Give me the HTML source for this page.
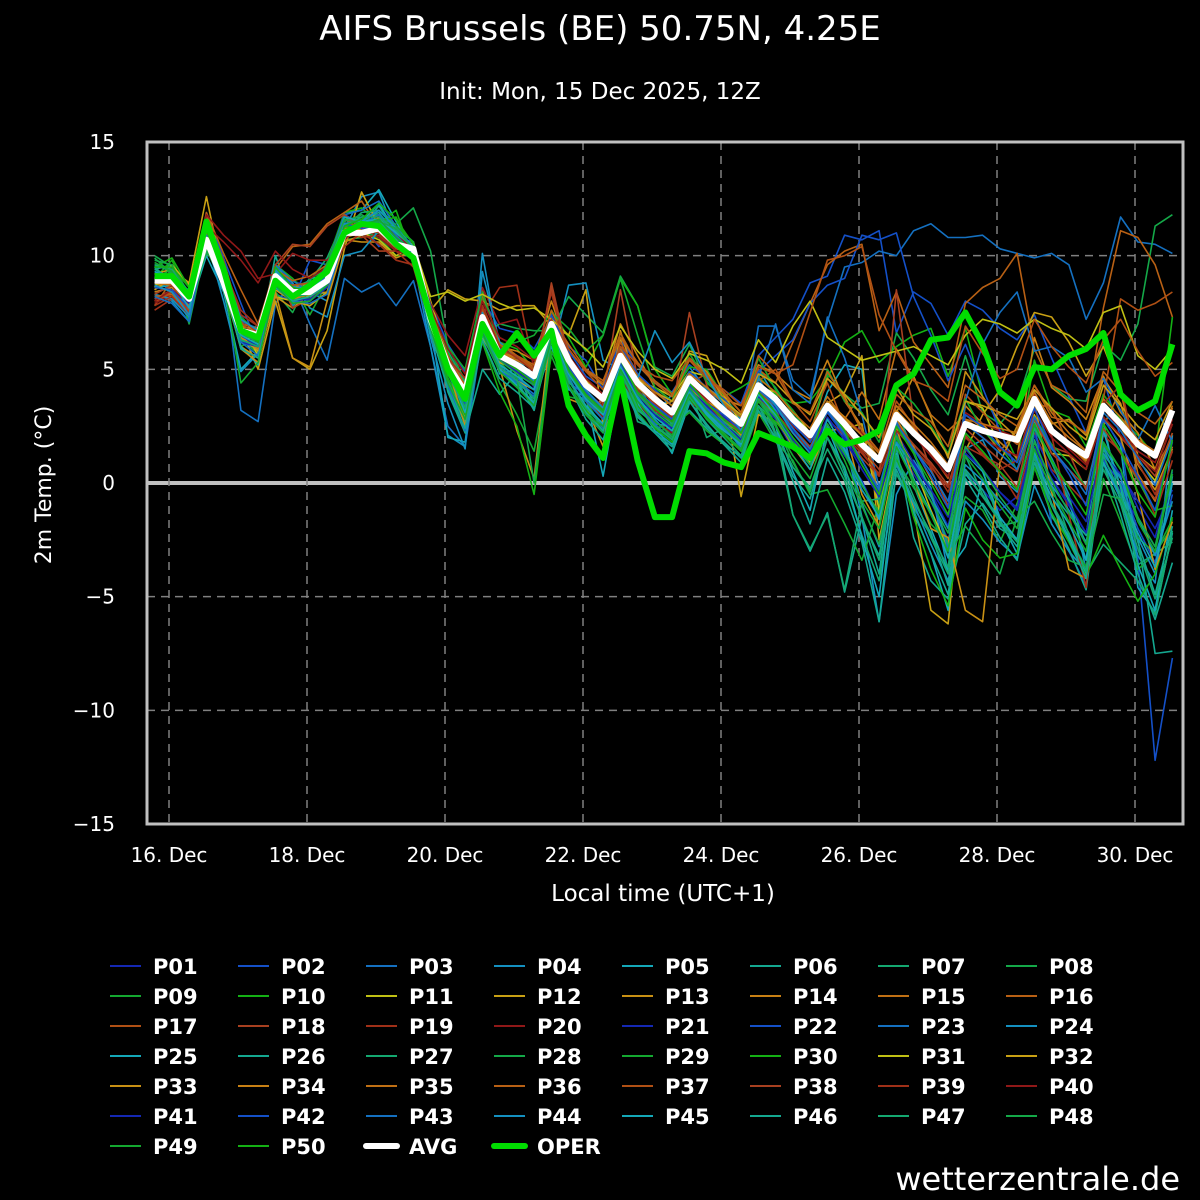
<!DOCTYPE html>
<html><head><meta charset="utf-8"><title>AIFS Brussels</title>
<style>html,body{margin:0;padding:0;background:#000;}svg{display:block;font-family:"DejaVu Sans","Liberation Sans",sans-serif;}</style>
</head><body>
<svg id="chart" width="1200" height="1200" viewBox="0 0 1200 1200" xmlns="http://www.w3.org/2000/svg">
<rect width="1200" height="1200" fill="#000"/>
<text x="600" y="40" fill="#fff" font-size="34" text-anchor="middle">AIFS Brussels (BE) 50.75N, 4.25E</text>
<text x="600" y="99" fill="#fff" font-size="23" text-anchor="middle">Init: Mon, 15 Dec 2025, 12Z</text>
<text x="0" y="0" fill="#fff" font-size="22" text-anchor="middle" transform="translate(51,485) rotate(-90)">2m Temp. (°C)</text>
<text x="663" y="901" fill="#fff" font-size="23" text-anchor="middle">Local time (UTC+1)</text>
<text x="1180" y="1190" fill="#fff" font-size="32" text-anchor="end">wetterzentrale.de</text>
<defs><clipPath id="plotclip"><rect x="147" y="142" width="1036" height="682"/></clipPath></defs>
<g id="grid"></g>
<g id="series" clip-path="url(#plotclip)"></g>
<rect x="147" y="142" width="1036" height="682" fill="none" stroke="#c0c0c0" stroke-width="3"/>
<g id="axes"></g>
<g id="legend"></g>
</svg>
<script>
const yTicks = [15,10,5,0,-5,-10,-15];
const xTickDays = [0,2,4,6,8,10,12,14];
const xTickLabels = ["16. Dec","18. Dec","20. Dec","22. Dec","24. Dec","26. Dec","28. Dec","30. Dec"];
const startDay = -5/24;
const stepDay = 0.25;
const avgValues = [8.9,8.9,8.1,10.7,8.8,6.7,6.5,9.1,8.4,8.4, 8.9,11.0,11.0,11.2,10.5,10.3,7.2,5.2,4.0,7.3, 5.6,5.2,4.7,7.0,5.4,4.3,3.7,5.6,4.4,3.7, 3.1,4.6,3.9,3.2,2.6,4.3,3.7,2.8,2.1,3.4, 2.6,1.7,1.0,3.0,2.2,1.5,0.6,2.6,2.3,2.1, 1.9,3.7,2.3,1.7,1.2,3.4,2.6,1.7,1.2,3.2];
const operValues = [9.1,9.1,8.2,11.5,9.4,6.7,6.4,8.9,8.2,8.7, 9.3,11.0,11.4,11.3,10.5,9.9,7.3,5.0,3.7,7.0, 5.6,6.6,5.6,6.7,3.4,2.1,1.1,4.6,1.0,-1.5, -1.5,1.4,1.3,0.9,0.7,2.2,1.9,1.6,1.1,2.3, 1.7,1.9,2.3,4.3,4.8,6.3,6.4,7.5,6.1,4.0, 3.4,5.1,5.0,5.6,5.9,6.6,3.9,3.2,3.6,6.1];
const memberNames = Array.from({length:50},(_,i)=>"P"+String(i+1).padStart(2,"0"));
const memberColors = ["#1428b4","#1450c8","#1470c0","#1490c0","#14a8b8","#14a890","#14a870","#14a848","#14a830","#14b014","#c0c014","#c8a014","#c89014","#c88014","#c07014","#b86014","#b05014","#a84020","#a03018","#901818"];
const memberSeries = [
[8.5,9.2,7.8,11.2,9.5,7.4,6.2,9.0,8.9,8.6,9.4,11.5,10.9,11.6,10.8,10.1,6.8,4.5,3.2,6.9,6.1,5.6,4.2,6.5,4.8,3.9,3.0,5.1,3.6,3.1,2.2,3.8,3.3,2.5,1.9,3.6,2.8,1.5,0.9,2.3,1.2,0.1,-1.5,1.8,0.4,-0.8,-2.5,0.5,-0.3,-1.2,-0.6,1.4,0.2,-1.0,-2.2,1.1,-0.4,-1.6,-2.8,0.5],
[8.1,8.4,7.5,11.9,9.9,7.9,6.0,8.3,8.0,9.8,9.6,11.8,11.4,10.4,10.8,9.9,7.9,6.1,4.9,8.1,6.8,6.6,5.9,7.3,6.0,5.4,4.1,6.3,5.2,4.4,4.0,5.2,4.6,4.1,3.5,5.6,6.4,7.2,8.8,9.1,10.9,10.7,11.1,6.6,8.4,7.9,6.5,8.0,7.6,6.8,6.3,7.4,5.5,3.8,2.2,4.6,2.0,-3.4,-12.2,-7.7],
[9.0,8.4,7.2,11.5,9.3,3.2,2.7,7.9,8.8,7.0,5.4,9.0,8.4,8.8,7.8,8.9,6.0,2.5,1.6,6.6,5.0,4.4,3.8,6.6,4.4,3.9,3.3,5.0,3.9,3.2,2.6,4.2,3.8,3.0,2.2,6.9,6.9,4.5,3.8,7.1,9.5,9.7,10.2,10.0,11.1,11.4,10.8,10.8,10.9,10.3,10.1,9.9,10.1,9.6,7.2,8.8,11.7,10.6,10.5,10.1],
[8.3,8.0,7.1,11.0,9.8,6.6,6.8,9.5,7.8,8.4,8.0,11.2,12.6,12.8,10.9,9.8,6.0,2.1,1.6,10.1,5.8,5.3,4.6,5.6,8.7,8.8,5.4,5.0,4.4,3.0,3.9,5.1,4.1,3.5,2.8,5.0,3.8,2.3,1.5,3.5,2.0,-1.5,-6.1,-0.5,1.0,-0.2,-3.9,1.5,1.9,0.3,-0.4,2.5,1.1,-0.5,-3.8,0.9,-0.7,-3.2,-4.4,2.1],
[9.2,8.9,7.6,10.0,8.4,5.0,5.8,9.4,8.1,9.0,9.1,11.9,12.0,12.9,11.5,10.1,7.0,2.0,1.8,7.2,4.8,5.0,3.5,6.0,4.1,3.8,0.3,4.6,3.8,2.6,1.3,3.5,3.6,2.4,2.5,4.2,3.4,2.7,1.8,4.0,5.2,5.0,-1.2,2.1,-0.1,-2.0,-3.9,-2.8,0.2,-1.6,-3.1,2.7,0.9,-0.8,-3.4,2.9,1.6,-4.6,-5.7,-2.2],
[9.4,9.6,7.6,10.9,8.7,6.4,6.1,10.0,7.9,8.5,8.3,11.3,11.3,12.2,11.0,10.0,7.5,4.0,2.2,5.0,3.9,4.9,3.2,6.7,4.2,3.6,2.9,4.7,3.2,2.6,2.5,3.2,2.4,1.7,1.2,3.4,2.6,-1.4,-3.0,-1.3,-4.8,-1.5,-4.0,1.6,-2.4,-4.3,-5.1,-1.8,-0.9,-2.0,-2.5,1.1,-0.4,-1.4,-2.3,2.7,-0.9,-2.4,-7.5,-7.4],
[9.5,8.8,8.5,10.2,9.0,6.9,6.0,8.9,8.6,8.9,9.9,11.6,11.7,11.8,11.2,10.6,7.5,5.8,4.4,7.2,5.2,4.2,3.6,6.2,4.7,3.2,2.3,5.4,2.7,2.4,2.6,4.2,2.0,2.4,1.9,4.3,2.2,0.7,-0.3,1.5,0.1,-2.3,-4.3,0.4,-1.1,-2.3,-3.7,1.6,0.6,-1.9,-1.7,1.9,-0.1,-2.3,-4.0,-2.7,-3.5,-4.3,-5.8,-2.1],
[10.0,9.5,7.0,10.5,9.0,6.3,5.7,8.4,7.5,9.0,9.4,10.7,10.8,11.0,11.4,12.1,10.2,6.0,4.5,6.5,7.0,6.8,6.7,6.7,8.2,7.4,6.6,9.1,7.8,5.1,4.7,6.1,4.4,3.8,2.9,5.0,4.2,3.0,2.1,4.8,3.9,3.3,3.5,6.6,5.5,4.1,3.0,5.6,3.1,2.6,3.5,5.9,4.3,3.7,3.6,6.1,5.4,7.0,11.3,11.8],
[8.8,9.3,8.3,10.3,8.6,6.2,7.0,9.2,8.7,7.4,8.8,11.2,11.0,10.8,10.0,10.1,6.5,4.6,3.3,6.3,4.4,3.0,1.4,5.6,3.8,3.6,2.4,4.9,3.1,2.2,2.5,3.1,2.3,1.7,0.9,3.1,1.8,1.0,-0.5,-0.3,-1.8,-3.4,-0.9,2.0,-0.1,-1.8,-2.6,-0.6,-1.2,-2.6,-0.9,1.4,-1.5,-2.4,-3.7,0.2,-1.7,-3.8,-3.1,-1.6],
[9.0,9.8,8.2,11.5,8.5,6.0,6.4,9.6,9.0,8.2,9.7,11.9,12.1,11.4,12.0,9.8,7.6,5.7,4.0,8.2,6.2,5.9,5.0,7.6,6.4,5.1,6.5,9.0,7.8,5.0,3.9,5.1,5.0,3.8,4.2,4.7,3.9,3.5,3.6,4.6,6.2,6.7,5.3,6.0,6.5,6.8,4.7,6.8,3.8,2.6,1.0,5.4,3.2,2.9,1.6,3.9,2.8,2.1,1.2,7.3],
[8.6,9.6,8.7,11.3,8.6,7.0,5.6,8.2,8.0,8.1,8.9,11.4,11.0,10.7,10.0,10.4,8.0,5.5,4.6,6.4,5.1,4.5,4.1,6.9,5.0,4.6,3.5,5.5,4.5,4.2,3.8,4.9,4.7,3.9,2.6,4.2,4.0,3.2,2.2,3.2,2.4,2.6,-1.2,2.2,0.8,-1.2,-2.9,3.6,3.3,1.6,0.9,3.0,1.3,1.2,0.6,3.4,2.5,1.0,0.1,2.2],
[9.2,9.4,8.8,12.6,9.0,6.8,5.0,8.0,5.5,5.0,6.7,10.3,12.8,11.3,10.6,10.0,7.6,8.5,8.1,8.0,7.6,7.8,7.8,6.9,6.5,8.5,2.5,6.3,4.0,3.3,3.6,5.8,5.6,3.9,-0.6,3.0,2.7,1.9,0.9,3.5,4.0,5.6,-2.5,1.2,-1.1,-5.6,-6.2,1.4,3.0,4.1,6.0,7.5,7.3,6.2,4.7,6.0,4.1,1.2,0.6,2.0],
[9.0,8.7,8.1,10.4,9.1,6.0,5.5,8.2,7.7,8.3,8.4,10.7,10.6,10.6,9.9,10.2,6.6,4.4,2.9,7.6,5.1,2.3,0.2,6.9,3.7,3.4,1.6,6.7,4.2,3.5,2.9,4.3,3.3,2.9,2.1,4.0,3.3,2.8,2.2,4.6,3.8,2.3,1.4,3.1,4.7,2.9,1.1,4.9,3.8,2.7,2.0,3.7,2.6,2.8,2.1,4.6,3.5,0.8,-0.3,1.5],
[8.2,8.2,7.7,11.6,9.4,7.2,6.5,9.2,8.6,8.8,9.0,11.3,11.1,11.7,10.6,10.5,7.0,5.1,3.6,7.8,6.0,5.8,5.4,8.0,5.8,5.0,4.3,7.0,5.6,4.2,3.6,5.5,4.9,3.7,3.4,5.2,4.8,4.1,3.7,5.4,3.6,2.5,-0.6,2.8,1.6,0.2,-1.1,3.4,2.6,1.8,1.1,6.4,4.2,3.6,2.8,4.7,3.1,2.2,0.6,2.6],
[8.5,9.2,8.3,11.2,8.9,6.5,6.8,9.6,8.1,8.5,9.3,10.9,11.5,11.4,10.7,10.1,7.4,4.9,3.5,6.8,5.7,5.4,5.0,7.0,5.6,3.6,2.8,5.8,4.6,3.6,3.1,4.7,3.6,2.7,2.2,4.0,3.4,2.6,2.1,3.6,2.8,4.0,2.8,5.9,4.6,3.0,2.3,3.0,2.4,1.4,2.3,4.3,3.1,2.2,1.4,2.5,4.1,0.4,-0.8,1.6],
[7.8,8.9,8.0,11.9,10.1,8.5,7.0,9.4,10.4,10.5,11.4,11.9,12.4,11.2,10.7,10.6,7.8,5.5,4.2,8.3,6.2,5.6,5.1,7.3,6.1,5.0,4.5,6.4,5.3,4.5,3.9,5.4,4.6,4.0,3.1,5.0,4.4,6.2,7.9,9.6,10.2,10.5,6.7,8.4,6.2,5.2,4.2,7.9,8.6,9.0,10.1,5.9,4.3,3.9,3.1,7.7,11.1,10.8,9.6,7.3],
[8.0,8.3,7.6,11.8,9.2,6.6,6.2,8.7,8.3,8.7,9.2,11.2,11.4,11.6,11.0,9.9,6.8,4.8,3.4,8.5,6.0,5.2,4.6,7.4,5.7,4.1,3.1,6.2,4.8,3.9,3.0,4.4,4.8,3.5,2.6,4.5,5.0,3.6,2.7,4.4,2.5,1.8,0.9,3.6,2.5,1.3,0.2,3.9,3.1,2.3,1.7,3.5,3.3,1.7,0.9,3.7,8.1,7.6,7.9,8.4],
[8.1,8.5,7.8,11.4,9.6,6.8,6.4,9.3,7.7,8.1,8.7,10.9,10.9,10.2,10.2,10.0,6.6,4.3,3.5,6.9,5.5,5.1,4.4,8.8,5.5,4.2,3.8,8.5,4.6,3.4,3.2,7.5,4.3,3.0,2.4,4.1,3.5,2.4,1.6,3.1,2.1,1.1,0.3,8.5,2.7,0.6,-1.0,2.1,1.2,0.8,-0.2,3.3,1.6,1.3,-0.3,2.9,2.0,1.2,0.3,2.2],
[7.6,8.1,7.4,11.1,9.5,7.6,6.9,8.8,8.1,8.4,9.0,11.0,10.8,10.9,10.2,9.5,6.9,5.0,3.7,7.4,8.6,8.7,5.0,8.4,5.3,4.2,3.7,5.4,4.3,3.5,2.9,4.4,3.7,3.0,2.4,4.0,3.5,2.6,2.0,3.1,2.3,1.4,0.3,2.4,1.7,0.8,-0.4,1.6,1.2,0.5,-0.7,2.2,0.6,-0.1,-0.9,2.1,1.4,0.2,-1.4,1.0],
[7.9,8.3,7.6,11.8,10.9,10.2,9.0,9.2,10.1,9.8,9.8,10.7,11.3,10.8,10.2,10.0,7.9,6.5,5.6,8.6,7.0,7.2,5.2,6.2,4.9,3.8,2.9,4.6,3.5,2.7,2.2,3.6,3.0,2.4,1.8,3.6,3.2,2.5,1.9,3.4,2.9,2.2,1.4,3.2,2.4,1.6,0.7,3.1,2.6,2.3,2.0,3.9,2.4,1.5,0.8,3.3,2.3,1.4,0.9,2.8],
[8.7,9.0,8.0,11.0,9.1,6.5,6.0,8.8,8.2,8.0,8.6,11.1,11.2,11.0,10.4,10.2,7.1,5.0,3.6,7.0,5.4,4.9,4.3,6.6,5.0,3.9,3.0,5.2,4.0,3.3,2.8,4.3,3.5,2.9,2.3,4.4,3.3,2.3,1.4,2.8,2.0,0.8,-0.4,2.2,0.9,-0.4,-1.9,1.5,0.6,-0.4,-1.1,2.1,0.5,-0.6,-1.7,1.8,0.6,-1.1,-2.4,0.4],
[8.4,8.6,7.9,11.6,9.7,7.1,6.8,9.4,8.7,8.8,9.2,11.3,11.3,11.5,10.8,10.6,7.5,5.4,4.3,7.6,5.9,5.5,5.0,7.4,5.8,4.7,4.2,6.0,4.8,4.1,3.4,4.9,4.2,3.7,2.9,4.9,5.6,6.3,7.9,8.7,9.0,10.9,10.7,11.0,8.2,6.5,4.5,6.1,4.2,2.3,0.5,2.6,-1.8,-3.0,-4.5,1.0,0.0,-2.0,-3.5,-0.5],
[9.1,8.8,7.3,10.8,9.0,6.2,5.9,9.6,8.9,8.4,9.6,11.8,12.0,12.4,11.3,10.2,7.8,5.2,3.4,7.0,5.1,4.6,4.1,6.5,4.6,3.4,2.4,4.8,3.4,2.6,1.9,3.9,3.0,2.6,1.5,4.6,7.0,4.1,3.5,7.3,5.5,3.0,-0.2,2.7,1.3,-0.5,-2.9,3.6,6.1,7.5,8.4,5.8,6.0,5.5,4.0,4.6,3.2,1.9,3.4,1.8],
[8.3,8.1,7.3,10.7,8.0,4.9,5.7,9.5,8.8,7.7,7.3,10.0,10.2,11.1,10.4,10.2,6.4,3.5,1.5,9.3,6.2,5.5,4.6,7.1,5.1,3.8,3.0,5.2,3.8,2.8,2.0,3.9,3.1,2.4,1.6,4.2,3.2,1.8,0.8,3.5,1.8,-0.9,-2.8,0.8,-0.9,-2.7,-4.3,-0.8,-1.6,-2.6,-3.3,-0.1,-1.8,-3.0,-3.9,1.6,0.3,-2.4,-4.0,0.3],
[8.6,8.7,7.7,11.3,9.0,6.0,5.2,9.3,8.4,8.3,9.0,11.1,11.5,12.3,11.0,10.4,6.9,4.6,2.7,6.8,5.0,4.3,3.5,6.8,4.5,3.4,2.6,5.3,3.5,2.3,1.7,4.1,3.0,2.2,1.4,3.8,2.5,0.5,-1.2,2.5,0.5,-2.4,-5.0,1.3,-1.3,-3.1,-5.6,1.3,0.5,-1.5,-2.5,1.4,-0.9,-2.4,-4.0,2.3,-0.2,-3.6,-5.6,-1.2],
[9.3,9.1,7.9,10.6,8.8,6.3,6.0,8.9,8.2,8.4,8.8,11.0,11.6,11.9,10.9,10.2,6.6,4.3,2.6,6.5,4.9,4.5,3.2,6.5,4.3,2.8,1.9,4.5,2.9,2.2,1.4,3.6,2.6,1.7,0.9,3.4,1.9,0.1,-1.8,1.1,-0.4,-2.6,-6.1,0.6,-1.2,-3.1,-4.9,0.2,-1.0,-2.4,-3.4,0.7,-1.4,-2.9,-4.7,0.9,-1.4,-4.0,-6.0,-3.5],
[9.6,9.3,8.3,10.9,9.3,6.7,6.3,9.0,8.0,8.4,8.6,11.2,11.9,12.0,11.3,10.6,7.4,5.2,3.9,7.3,5.4,4.8,4.3,7.0,5.2,3.7,3.1,5.7,4.1,3.3,2.6,4.4,3.4,2.7,2.0,3.9,2.1,-1.4,-2.9,-1.4,-4.7,-0.8,-0.7,3.2,1.4,-0.4,-2.7,1.2,-0.5,-1.7,-2.5,2.4,0.9,-0.7,-2.7,0.6,-0.9,-3.6,-3.1,-2.6],
[9.9,9.2,8.0,10.1,9.4,7.0,6.5,8.6,8.1,8.3,9.4,11.5,11.8,11.4,11.0,10.3,7.1,5.0,3.4,6.7,5.3,4.6,0.0,6.3,4.2,3.0,2.2,4.9,3.3,2.5,2.0,4.1,3.2,2.5,1.7,3.8,2.6,0.9,-0.4,2.0,0.6,-1.0,-2.7,1.0,-0.2,-1.3,-3.2,-1.9,-2.9,-4.0,-1.5,-0.8,-2.2,-3.4,-3.7,-0.5,-0.7,-2.4,-3.1,-1.9],
[9.0,9.4,8.2,10.4,9.1,6.5,6.3,9.3,8.5,8.7,9.2,11.4,11.6,11.6,11.3,10.6,7.5,6.0,5.0,8.4,6.0,6.2,6.5,7.5,6.8,5.8,6.5,9.0,6.5,4.2,3.6,5.7,4.5,3.6,2.9,5.5,4.1,3.2,2.0,5.0,3.6,3.1,1.8,4.2,3.5,2.5,1.3,3.7,2.3,1.6,0.6,2.9,1.7,0.9,-0.2,2.6,1.4,0.1,-1.2,-1.0],
[9.5,9.9,8.6,10.6,9.2,7.3,6.6,9.0,8.3,8.1,8.6,11.2,11.5,11.5,11.7,10.0,6.9,4.6,3.0,6.2,4.0,2.5,-0.5,5.8,4.3,3.2,2.3,5.4,3.4,2.4,1.8,3.7,2.9,2.1,1.4,3.3,2.7,1.8,0.8,2.4,1.3,-0.3,-1.4,1.2,-1.5,-3.8,-5.4,-1.1,-2.5,-3.3,-3.1,0.7,-1.3,-2.6,-4.1,-2.3,-3.8,-5.2,-4.0,-1.5],
[8.7,8.9,8.4,11.2,9.2,6.9,6.7,9.2,8.5,8.2,9.1,11.0,11.2,11.3,10.7,10.5,8.2,8.4,8.0,8.3,7.9,7.6,7.7,7.2,6.5,5.9,5.1,6.9,5.8,5.0,4.6,5.7,5.4,5.0,4.4,6.3,5.3,6.9,8.0,6.4,5.9,5.4,5.6,5.8,6.0,5.6,5.2,6.5,7.2,7.0,6.6,7.2,6.8,6.5,5.9,7.5,7.8,5.6,5.0,5.9],
[8.5,9.0,8.1,11.0,8.9,6.4,5.8,8.5,8.0,7.8,8.4,10.8,11.0,11.1,10.4,10.1,7.0,5.0,3.6,7.2,5.3,5.0,4.7,6.5,5.3,4.5,3.8,5.5,4.6,4.0,3.6,4.8,4.2,3.6,3.0,4.8,4.4,3.6,3.0,4.6,3.9,3.0,2.0,4.2,3.0,2.4,1.2,3.6,3.4,3.1,2.8,4.1,3.3,2.5,1.9,4.3,3.4,2.5,1.9,3.6],
[8.8,9.1,8.0,11.0,8.7,5.9,5.3,8.4,5.5,5.1,8.0,10.6,10.9,11.1,10.5,10.2,7.3,5.1,2.5,7.2,5.4,4.9,4.3,6.7,4.9,3.9,3.2,5.5,4.3,3.6,3.2,4.4,3.6,3.1,2.4,3.8,2.9,1.6,0.6,2.3,2.4,-0.5,-1.9,2.4,0.2,-2.0,-2.4,-5.6,-6.1,0.9,2.5,3.6,-0.4,-3.8,-4.2,2.9,2.0,-0.5,-3.8,-1.7],
[8.4,8.6,7.9,10.8,9.1,6.4,5.9,9.0,8.1,8.3,8.9,10.9,11.1,11.3,10.5,10.0,7.2,5.3,4.0,7.5,5.8,5.5,5.0,6.6,5.2,4.4,3.7,5.6,4.3,3.6,3.0,4.6,3.9,3.1,2.5,4.4,3.8,2.9,2.2,3.6,2.9,2.1,1.1,3.2,2.4,1.5,0.6,2.8,2.3,2.0,1.8,3.7,2.2,1.6,1.0,3.4,2.6,1.7,1.3,3.3],
[8.8,8.7,7.8,10.9,8.9,6.9,6.7,9.2,8.5,8.6,9.1,11.2,11.2,11.3,10.6,10.3,7.4,5.4,4.2,7.6,5.8,5.4,5.0,7.2,5.6,4.6,3.9,5.9,4.7,4.0,3.4,4.8,4.2,3.5,2.9,4.6,4.0,3.1,2.4,3.8,2.8,2.1,1.3,3.4,2.6,1.8,0.8,2.8,2.6,2.4,2.2,4.0,2.7,2.0,1.4,3.7,2.9,1.9,1.4,3.4],
[8.2,8.3,7.6,11.1,9.3,7.0,6.8,9.4,8.9,9.1,9.6,11.6,11.3,11.1,10.8,10.4,7.6,5.6,4.3,7.8,6.1,5.6,5.2,7.6,5.9,4.9,4.4,6.6,5.2,4.4,3.8,5.4,4.8,3.9,3.1,5.6,4.8,3.5,3.1,4.9,3.7,2.3,1.4,3.9,3.2,2.7,1.6,4.3,3.7,3.0,2.5,4.3,2.9,2.7,2.2,4.9,4.0,3.1,2.6,3.6],
[8.0,8.4,7.7,11.4,9.4,7.1,6.3,8.9,8.7,8.8,9.3,11.4,11.3,11.4,10.7,10.3,7.2,5.3,3.9,7.7,5.8,5.6,5.0,7.1,5.9,4.9,4.1,6.0,5.2,4.7,4.5,5.5,4.6,4.1,3.4,5.1,4.8,5.2,7.5,9.8,10.0,10.4,7.4,5.8,4.5,4.2,3.6,6.9,5.7,4.6,5.0,7.2,6.0,5.1,4.4,6.3,7.2,5.8,4.7,5.3],
[8.3,8.7,7.5,11.6,9.8,7.2,6.6,9.6,10.5,10.4,11.3,11.8,11.2,11.0,10.3,10.1,7.3,5.2,3.9,7.3,5.7,5.2,4.8,8.6,5.6,4.3,3.5,5.8,4.3,3.4,2.8,4.4,3.6,2.8,2.3,4.0,3.4,2.6,1.9,3.2,2.3,1.5,0.6,2.6,1.7,0.9,-0.1,2.4,1.7,1.0,0.5,2.8,1.3,0.6,-0.2,2.4,1.3,0.2,-0.7,1.4],
[7.8,8.2,7.4,11.2,9.6,7.4,6.9,9.1,8.6,8.5,9.0,10.4,11.0,10.5,9.8,9.6,6.9,5.5,4.6,7.8,6.0,5.5,4.9,7.2,5.2,4.0,3.4,5.4,4.1,3.2,2.7,4.1,3.4,2.8,2.2,3.7,3.1,2.2,1.5,2.8,2.1,1.3,0.4,2.3,1.5,0.7,-0.2,2.0,1.3,0.6,1.0,3.7,2.1,-1.4,-4.6,3.5,4.3,0.9,-0.5,1.4],
[8.0,8.5,7.9,11.3,10.6,9.8,8.8,10.2,9.4,9.0,9.5,10.8,11.1,11.4,10.9,10.3,7.7,5.9,4.8,8.0,6.4,6.0,5.4,6.6,5.6,4.6,3.9,5.7,4.3,3.6,3.1,4.4,3.7,3.2,2.4,4.1,3.6,2.7,2.0,3.3,2.5,1.8,0.9,2.9,2.1,1.2,0.3,2.7,2.0,1.5,1.2,3.2,2.0,1.3,0.6,2.9,2.1,1.2,0.5,2.6],
[8.9,8.8,7.9,10.9,8.7,6.2,6.0,8.6,8.0,8.1,8.6,10.9,11.0,11.2,10.6,10.1,7.0,4.9,3.6,7.0,5.4,4.9,4.3,6.7,4.9,3.7,3.2,5.3,3.9,3.0,2.4,4.1,3.4,2.6,1.9,3.8,3.1,1.9,1.1,2.9,1.9,0.6,-0.6,1.8,0.8,-0.3,-1.5,1.3,0.6,-0.4,-1.2,1.6,0.2,-0.9,-2.2,1.2,0.4,-0.8,-2.0,-0.3],
[8.6,8.5,7.7,11.2,9.3,6.8,6.4,9.2,8.4,8.5,9.1,11.4,11.2,11.2,10.8,10.1,7.0,4.9,3.5,7.2,5.5,5.0,4.5,6.9,5.1,4.0,3.2,5.4,4.0,3.4,2.8,4.3,3.5,3.0,2.3,4.2,3.5,2.6,1.8,3.1,2.1,1.0,-0.3,2.6,1.5,0.3,-1.1,3.0,2.5,1.6,0.9,3.3,1.6,0.4,-1.0,2.8,1.7,0.3,-1.2,1.8],
[8.2,7.9,7.1,10.9,9.0,6.2,5.6,8.8,8.0,7.9,8.3,10.8,11.4,11.8,10.9,10.1,6.9,4.3,2.3,7.0,4.9,4.5,3.9,6.5,4.8,3.6,2.8,5.2,3.7,2.9,2.3,4.1,3.3,2.6,1.8,4.1,3.4,2.4,1.5,3.2,2.2,1.0,-0.3,2.6,1.5,0.5,-0.8,2.6,2.0,1.3,0.6,2.9,1.5,0.6,-0.5,3.1,2.3,1.1,-0.1,2.0],
[8.7,8.4,7.4,11.6,9.6,7.2,6.7,9.4,8.6,8.6,9.2,11.4,11.5,12.0,11.2,10.4,7.3,5.1,3.6,7.5,5.6,5.2,4.5,6.9,5.3,4.1,3.3,5.6,4.6,6.7,5.3,6.2,4.7,3.4,2.3,4.6,3.4,2.2,1.3,2.5,1.4,-0.3,-1.5,1.8,0.7,-0.6,-2.0,0.8,0.1,-0.8,-1.7,1.2,-0.1,-1.2,-2.6,1.3,0.2,-1.5,-3.2,-0.8],
[9.3,8.9,7.7,10.8,8.7,6.5,6.1,9.3,8.5,8.5,9.2,11.7,11.5,11.6,11.0,10.4,7.1,5.0,3.1,6.9,5.2,4.7,4.1,6.7,4.8,3.7,3.0,5.1,3.7,2.9,2.3,4.0,3.1,2.3,1.7,3.9,3.0,1.7,0.6,2.8,1.5,0.0,-1.6,1.7,0.2,-1.3,-3.3,0.4,-0.6,-1.5,-2.5,0.9,-0.6,-1.8,-3.4,0.9,-0.5,-2.2,-3.7,0.0],
[9.4,9.0,8.1,10.5,8.8,5.9,5.5,8.6,8.0,8.2,8.7,11.0,11.4,11.5,10.7,10.0,6.7,4.1,2.4,6.3,4.6,4.0,3.3,6.2,4.2,3.1,2.3,4.6,3.0,2.2,1.6,3.6,2.5,1.8,1.1,3.2,2.0,0.3,-0.7,2.0,0.7,-1.6,-3.2,0.9,-0.8,-2.2,-4.5,0.6,-0.3,-1.8,-2.8,0.9,-1.0,-2.5,-4.2,1.5,-0.1,-2.6,-4.9,-1.9],
[9.6,9.4,8.4,10.6,9.1,6.3,6.0,8.8,8.2,8.3,8.9,11.3,11.7,11.7,11.1,10.3,7.2,4.8,3.3,6.8,5.1,4.5,3.7,6.6,4.5,3.3,2.5,5.0,3.3,2.5,1.9,3.8,2.8,2.0,1.2,3.4,2.2,0.7,-0.2,2.0,0.3,-1.5,-3.4,1.2,-0.6,-2.4,-4.0,0.5,-0.6,-1.7,-2.6,1.1,-0.9,-2.2,-3.9,1.2,-0.5,-2.9,-5.1,-2.4],
[9.8,9.6,8.2,10.8,9.0,6.6,6.2,9.1,8.5,8.4,9.6,11.6,11.4,11.5,11.2,10.3,7.2,5.1,3.6,7.1,5.4,4.8,4.3,6.9,4.9,3.8,3.1,5.5,3.9,3.1,2.5,4.2,3.2,2.5,1.8,3.7,2.9,1.7,0.8,2.6,1.3,-0.1,-1.3,2.1,0.6,-0.8,-2.2,1.6,0.6,-0.6,-1.6,1.8,0.1,-1.3,-2.7,1.7,0.6,-1.5,-2.8,0.6],
[9.7,9.3,8.0,10.7,8.9,4.4,5.3,8.7,7.9,8.0,8.7,11.0,11.3,11.6,10.8,10.2,6.8,4.4,2.8,6.6,4.9,4.2,3.4,6.3,4.3,3.0,2.5,5.0,3.6,2.7,2.1,3.9,2.8,2.2,1.5,3.6,2.5,1.2,0.2,2.4,1.0,-0.8,-2.0,1.6,0.1,-1.4,-3.0,1.2,0.2,-1.0,-2.0,1.5,-0.3,-1.7,-3.0,1.8,0.6,-1.7,-3.0,0.4],
[9.5,9.5,8.6,11.1,9.4,6.8,6.2,9.5,8.6,8.4,9.0,11.3,11.6,12.3,11.6,10.5,7.4,5.3,3.8,7.3,5.5,5.0,4.4,7.0,5.0,3.9,3.2,5.4,4.0,3.3,2.7,4.4,3.5,2.8,2.2,4.0,3.1,2.0,1.1,3.4,2.3,0.8,-0.5,2.5,1.3,0.0,-1.4,2.2,1.4,0.5,-0.3,2.6,1.0,-0.2,-1.4,2.6,1.4,-0.4,-1.5,1.9]
];

const NS = "http://www.w3.org/2000/svg";
const plotLeft = 147, plotRight = 1183, plotTop = 142, plotBottom = 824;
const yMin = -15, yMax = 15;
function yScale(v){ return plotBottom - (v - yMin) / (yMax - yMin) * (plotBottom - plotTop); }
function xScale(day){ return 169 + 69 * day; }
function mk(tag, attrs, parent){ const e = document.createElementNS(NS, tag); for (const k in attrs) e.setAttribute(k, attrs[k]); parent.appendChild(e); return e; }
function pathFor(vals){ return vals.map((v,i)=>(i?"L":"M")+xScale(startDay+i*stepDay).toFixed(1)+","+yScale(v).toFixed(1)).join(" "); }

const grid = document.getElementById("grid");
const axes = document.getElementById("axes");
yTicks.forEach(v=>{
  const y = yScale(v);
  if (v !== 0 && v !== 15 && v !== -15) {
    const l = mk("line",{x1:plotLeft,x2:plotRight,y1:y,y2:y,stroke:"#808080","stroke-width":1.5,"stroke-dasharray":"8,6"},grid);
    
    
  }
  const t = mk("text",{x:115,y:y+7,fill:"#fff","font-size":20,"text-anchor":"end"},axes);
  t.textContent = String(v).replace("-","\u2212");
  
  
});
const zl = mk("line",{x1:plotLeft,x2:plotRight,y1:yScale(0),y2:yScale(0),stroke:"#c0c0c0","stroke-width":4},grid);


xTickDays.forEach((d,i)=>{
  const x = xScale(d);
  const l = mk("line",{x1:x,x2:x,y1:plotTop,y2:plotBottom,stroke:"#808080","stroke-width":1.5,"stroke-dasharray":"8,6"},grid);
  
  
  const t = mk("text",{x:x,y:862,fill:"#fff","font-size":20,"text-anchor":"middle"},axes);
  t.textContent = xTickLabels[i];
  
  
});

const series = document.getElementById("series");
memberSeries.forEach((vals,i)=>{
  const p = mk("path",{d:pathFor(vals),fill:"none",stroke:memberColors[i%20],"stroke-width":1.6,"stroke-linejoin":"round"},series);
  
  
});
const avgPath = mk("path",{d:pathFor(avgValues),fill:"none",stroke:"#fff","stroke-width":6,"stroke-linejoin":"round"},series);


const operPath = mk("path",{d:pathFor(operValues),fill:"none",stroke:"#00dd00","stroke-width":6,"stroke-linejoin":"round"},series);



const legend = document.getElementById("legend");
const legendItems = memberNames.map((n,i)=>({name:n,color:memberColors[i%20],w:2})).concat([{name:"AVG",color:"#fff",w:6},{name:"OPER",color:"#00dd00",w:6}]);
legendItems.forEach((it,i)=>{
  const col = i % 8, row = Math.floor(i / 8);
  const x = 110 + col * 128, y = 966 + row * 30;
  const g = mk("g",{},legend);
  
  
  mk("line",{x1:x,x2:x+31,y1:y,y2:y,stroke:it.color,"stroke-width":it.w,"stroke-linecap":it.w>2?"round":"butt"},g);
  const t = mk("text",{x:x+43,y:y+8,fill:"#fff","font-size":21,"font-weight":"bold"},g);
  t.textContent = it.name;
});
</script>
</body></html>
